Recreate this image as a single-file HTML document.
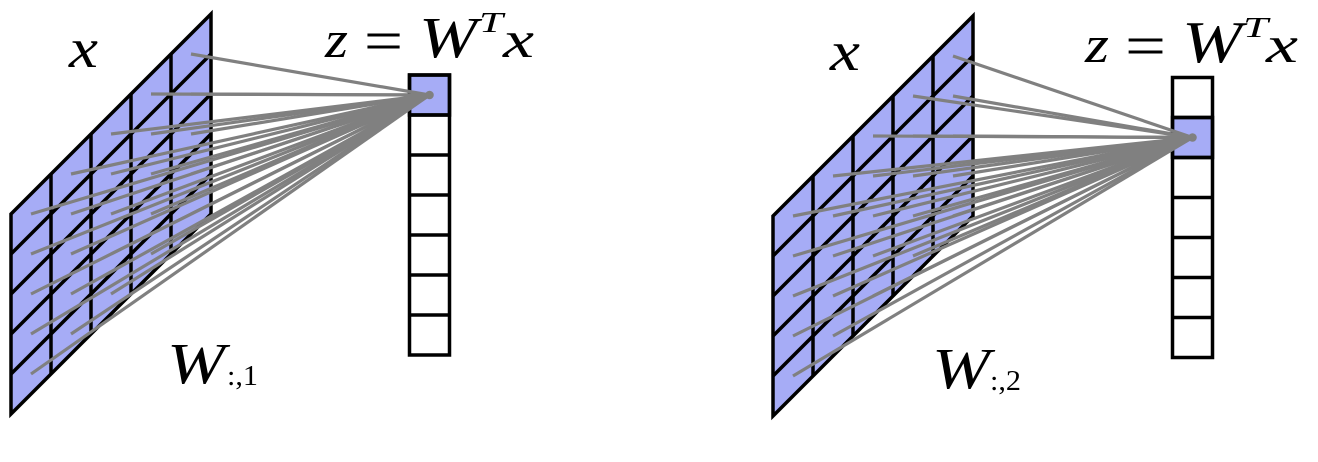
<!DOCTYPE html>
<html>
<head>
<meta charset="utf-8">
<style>
  html, body { margin: 0; padding: 0; background: #ffffff; }
  body { width: 1318px; height: 462px; overflow: hidden; }
  svg { display: block; }
  .m { font-family: "Liberation Serif", "DejaVu Serif", serif; fill: #000; }
  .i { font-style: italic; }
</style>
</head>
<body>
<svg width="1318" height="462" viewBox="0 0 1318 462" xmlns="http://www.w3.org/2000/svg">
  <rect x="0" y="0" width="1318" height="462" fill="#ffffff"/>

  <!-- ================= LEFT FIGURE ================= -->
  <g stroke="#000" stroke-width="3.5" stroke-linejoin="miter" fill="none">
    <polygon points="11,214 211,14 211,214 11,414" fill="#a6acf6"/>
    <line x1="51" y1="174" x2="51" y2="374"/>
    <line x1="91" y1="134" x2="91" y2="334"/>
    <line x1="131" y1="94" x2="131" y2="294"/>
    <line x1="171" y1="54" x2="171" y2="254"/>
    <line x1="11" y1="254" x2="211" y2="54"/>
    <line x1="11" y1="294" x2="211" y2="94"/>
    <line x1="11" y1="334" x2="211" y2="134"/>
    <line x1="11" y1="374" x2="211" y2="174"/>
  </g>
  <!-- vector left -->
  <g stroke="#000" stroke-width="3.5" fill="none">
    <rect x="409.5" y="75" width="40" height="40" fill="#a6acf6"/>
    <rect x="409.5" y="75" width="40" height="280" fill="none"/>
    <line x1="409.5" y1="115" x2="449.5" y2="115"/>
    <line x1="409.5" y1="155" x2="449.5" y2="155"/>
    <line x1="409.5" y1="195" x2="449.5" y2="195"/>
    <line x1="409.5" y1="235" x2="449.5" y2="235"/>
    <line x1="409.5" y1="275" x2="449.5" y2="275"/>
    <line x1="409.5" y1="315" x2="449.5" y2="315"/>
  </g>
  <!-- connections left -->
  <g stroke="#808080" stroke-width="3.2" stroke-linecap="butt">
    <line x1="31" y1="214" x2="429.5" y2="95"/>
    <line x1="31" y1="254" x2="429.5" y2="95"/>
    <line x1="31" y1="294" x2="429.5" y2="95"/>
    <line x1="31" y1="334" x2="429.5" y2="95"/>
    <line x1="31" y1="374" x2="429.5" y2="95"/>
    <line x1="71" y1="174" x2="429.5" y2="95"/>
    <line x1="71" y1="214" x2="429.5" y2="95"/>
    <line x1="71" y1="254" x2="429.5" y2="95"/>
    <line x1="71" y1="294" x2="429.5" y2="95"/>
    <line x1="71" y1="334" x2="429.5" y2="95"/>
    <line x1="111" y1="134" x2="429.5" y2="95"/>
    <line x1="111" y1="174" x2="429.5" y2="95"/>
    <line x1="111" y1="214" x2="429.5" y2="95"/>
    <line x1="111" y1="254" x2="429.5" y2="95"/>
    <line x1="111" y1="294" x2="429.5" y2="95"/>
    <line x1="151" y1="94" x2="429.5" y2="95"/>
    <line x1="151" y1="134" x2="429.5" y2="95"/>
    <line x1="151" y1="174" x2="429.5" y2="95"/>
    <line x1="151" y1="214" x2="429.5" y2="95"/>
    <line x1="151" y1="254" x2="429.5" y2="95"/>
    <line x1="191" y1="54" x2="429.5" y2="95"/>
    <line x1="191" y1="94" x2="429.5" y2="95"/>
    <line x1="191" y1="134" x2="429.5" y2="95"/>
    <line x1="191" y1="174" x2="429.5" y2="95"/>
    <line x1="191" y1="214" x2="429.5" y2="95"/>
  </g>
  <circle cx="429.5" cy="95" r="4.3" fill="#808080"/>

  <!-- labels left -->
  <text class="m i" x="69" y="67" font-size="56" textLength="29" lengthAdjust="spacingAndGlyphs">x</text>
  <text class="m i" x="325" y="57" font-size="52" textLength="23" lengthAdjust="spacingAndGlyphs">z</text>
  <text class="m" x="364" y="61" font-size="60" textLength="39" lengthAdjust="spacingAndGlyphs">=</text>
  <text class="m i" x="419" y="57" font-size="58" textLength="58" lengthAdjust="spacingAndGlyphs">W</text>
  <text class="m i" x="479" y="32" font-size="29" textLength="24" lengthAdjust="spacingAndGlyphs">T</text>
  <text class="m i" x="503" y="57" font-size="52" textLength="31" lengthAdjust="spacingAndGlyphs">x</text>

  <text class="m i" x="167" y="383" font-size="58" textLength="58" lengthAdjust="spacingAndGlyphs">W</text>
  <text class="m" x="227" y="385" font-size="29" textLength="31" lengthAdjust="spacingAndGlyphs">:,1</text>

  <!-- ================= RIGHT FIGURE ================= -->
  <g stroke="#000" stroke-width="3.5" stroke-linejoin="miter" fill="none">
    <polygon points="773,216 973,16 973,216 773,416" fill="#a6acf6"/>
    <line x1="813" y1="176" x2="813" y2="376"/>
    <line x1="853" y1="136" x2="853" y2="336"/>
    <line x1="893" y1="96" x2="893" y2="296"/>
    <line x1="933" y1="56" x2="933" y2="256"/>
    <line x1="773" y1="256" x2="973" y2="56"/>
    <line x1="773" y1="296" x2="973" y2="96"/>
    <line x1="773" y1="336" x2="973" y2="136"/>
    <line x1="773" y1="376" x2="973" y2="176"/>
  </g>
  <!-- vector right -->
  <g stroke="#000" stroke-width="3.5" fill="none">
    <rect x="1172.5" y="117.5" width="40" height="40" fill="#a6acf6"/>
    <rect x="1172.5" y="77.5" width="40" height="280" fill="none"/>
    <line x1="1172.5" y1="117.5" x2="1212.5" y2="117.5"/>
    <line x1="1172.5" y1="157.5" x2="1212.5" y2="157.5"/>
    <line x1="1172.5" y1="197.5" x2="1212.5" y2="197.5"/>
    <line x1="1172.5" y1="237.5" x2="1212.5" y2="237.5"/>
    <line x1="1172.5" y1="277.5" x2="1212.5" y2="277.5"/>
    <line x1="1172.5" y1="317.5" x2="1212.5" y2="317.5"/>
  </g>
  <!-- connections right -->
  <g stroke="#808080" stroke-width="3.2" stroke-linecap="butt">
    <line x1="793" y1="216" x2="1192.5" y2="137.5"/>
    <line x1="793" y1="256" x2="1192.5" y2="137.5"/>
    <line x1="793" y1="296" x2="1192.5" y2="137.5"/>
    <line x1="793" y1="336" x2="1192.5" y2="137.5"/>
    <line x1="793" y1="376" x2="1192.5" y2="137.5"/>
    <line x1="833" y1="176" x2="1192.5" y2="137.5"/>
    <line x1="833" y1="216" x2="1192.5" y2="137.5"/>
    <line x1="833" y1="256" x2="1192.5" y2="137.5"/>
    <line x1="833" y1="296" x2="1192.5" y2="137.5"/>
    <line x1="833" y1="336" x2="1192.5" y2="137.5"/>
    <line x1="873" y1="136" x2="1192.5" y2="137.5"/>
    <line x1="873" y1="176" x2="1192.5" y2="137.5"/>
    <line x1="873" y1="216" x2="1192.5" y2="137.5"/>
    <line x1="873" y1="256" x2="1192.5" y2="137.5"/>
    <line x1="873" y1="296" x2="1192.5" y2="137.5"/>
    <line x1="913" y1="96" x2="1192.5" y2="137.5"/>
    <line x1="913" y1="136" x2="1192.5" y2="137.5"/>
    <line x1="913" y1="176" x2="1192.5" y2="137.5"/>
    <line x1="913" y1="216" x2="1192.5" y2="137.5"/>
    <line x1="913" y1="256" x2="1192.5" y2="137.5"/>
    <line x1="953" y1="56" x2="1192.5" y2="137.5"/>
    <line x1="953" y1="96" x2="1192.5" y2="137.5"/>
    <line x1="953" y1="136" x2="1192.5" y2="137.5"/>
    <line x1="953" y1="176" x2="1192.5" y2="137.5"/>
    <line x1="953" y1="216" x2="1192.5" y2="137.5"/>
  </g>
  <circle cx="1192.5" cy="137.5" r="4.3" fill="#808080"/>

  <!-- labels right -->
  <text class="m i" x="830" y="70" font-size="56" textLength="30" lengthAdjust="spacingAndGlyphs">x</text>
  <text class="m i" x="1085" y="62" font-size="52" textLength="24" lengthAdjust="spacingAndGlyphs">z</text>
  <text class="m" x="1125" y="66" font-size="60" textLength="41" lengthAdjust="spacingAndGlyphs">=</text>
  <text class="m i" x="1182" y="62" font-size="59" textLength="60" lengthAdjust="spacingAndGlyphs">W</text>
  <text class="m i" x="1243" y="37" font-size="29" textLength="25" lengthAdjust="spacingAndGlyphs">T</text>
  <text class="m i" x="1266" y="62" font-size="52" textLength="32" lengthAdjust="spacingAndGlyphs">x</text>

  <text class="m i" x="932" y="388" font-size="58" textLength="58" lengthAdjust="spacingAndGlyphs">W</text>
  <text class="m" x="990" y="390" font-size="29" textLength="31" lengthAdjust="spacingAndGlyphs">:,2</text>
</svg>
</body>
</html>
